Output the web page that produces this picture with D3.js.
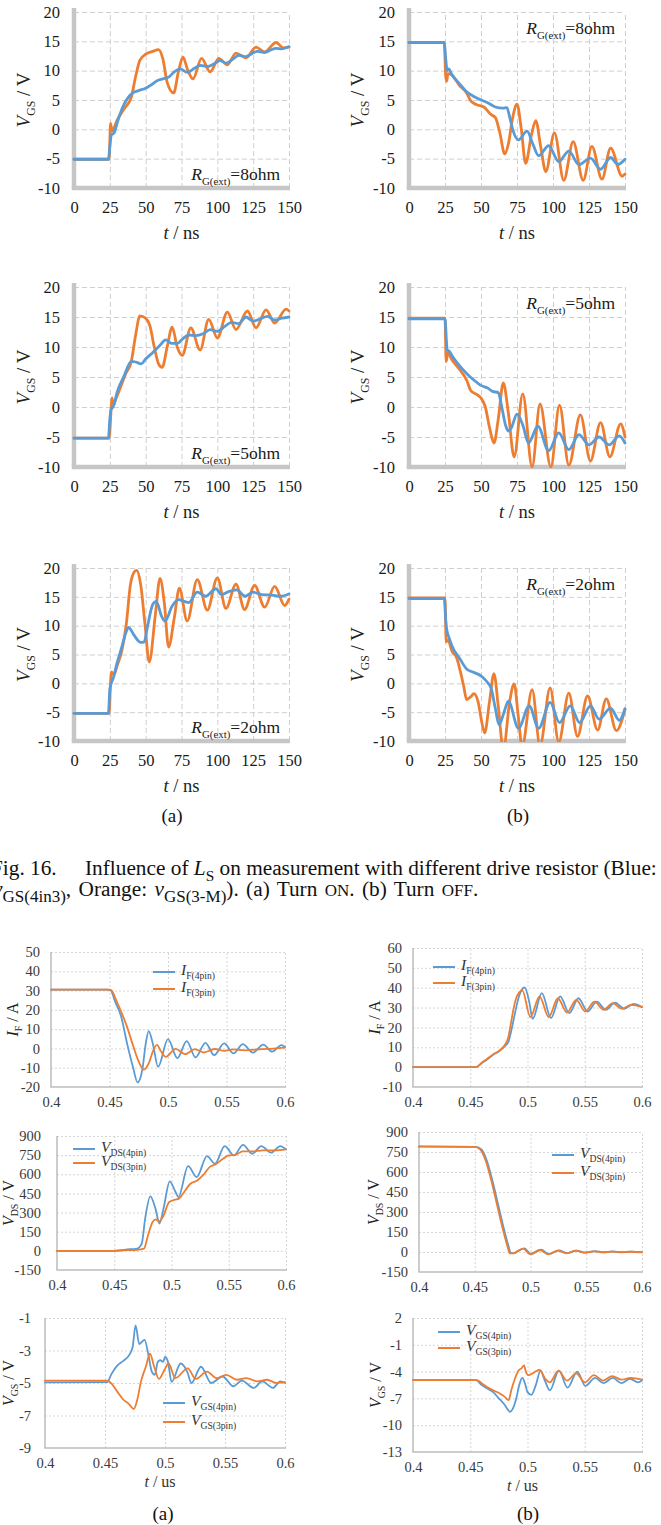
<!DOCTYPE html>
<html>
<head>
<meta charset="utf-8">
<script src="https://cdn.jsdelivr.net/npm/d3@7"></script>
<style>
  body { margin: 0; background: #fff; }
  svg { display: block; }
</style>
</head>
<body>
<svg id="chart" width="661" height="1525"></svg>
<script>
// ---------- tick values ----------
var nsTicks = [0, 25, 50, 75, 100, 125, 150];
var vgs16Ticks = [-10, -5, 0, 5, 10, 15, 20];
var usTicks = [0.4, 0.45, 0.5, 0.55, 0.6];
var ifOnTicks = [-20, -10, 0, 10, 20, 30, 40, 50];
var ifOffTicks = [-10, 0, 10, 20, 30, 40, 50, 60];
var vdsTicks = [-150, 0, 150, 300, 450, 600, 750, 900];
var vgsOnTicks = [-9, -7, -5, -3, -1];
var vgsOffTicks = [-13, -10, -7, -4, -1, 2];
var rgValues = ["8ohm", "5ohm", "2ohm"];

// ---------- Fig. 16 series : [t (ns), vGS (V)] ----------
var on8Blue = [[0,-5.1],[24,-5.1],[25,-3],[26,-1],[27,-0.8],[28,-0.6],[30,1],[34,3.8],[38,5.5],[41,6.2],[45,6.6],[50,7],[54,7.6],[58,8.3],[62,8.6],[66,8.9],[70,9.8],[74,10.3],[79,9.7],[84,10.4],[88,10.9],[93,10.7],[98,11.2],[102,11.7],[106,11.3],[111,12.0],[115,12.6],[120,12.4],[124,12.9],[128,13.3],[133,13.1],[137,13.5],[141,13.8],[145,13.7],[150,14.1]];
var on8Orange = [[0,-5.1],[24.5,-5.1],[25.5,1],[26.5,-0.3],[28,0.3],[30,1.5],[35,3.5],[40,5.5],[43,9],[46,11.8],[50,12.8],[55,13.3],[59,13.6],[62,12],[65,8],[69.5,6.2],[73,10],[76,12.3],[79.5,10],[83,8.6],[89,12.1],[95,9.8],[101,12.1],[107,11],[113,13],[120,12.2],[127,14],[133,13.2],[141,14.8],[146,13.9],[150,14]];
var off8Blue = [[0,14.8],[24.5,14.8],[25.5,12],[26.5,10],[27.5,10.3],[30,9.2],[35,7.8],[40,6.4],[45,5.6],[50,5],[55,4.5],[60,3.8],[65,3.6],[68,3.7],[70,2],[72,0],[76,-1.8],[82,-0.3],[86,-2.5],[90,-4.5],[97,-2.8],[104,-5.5],[111,-3.7],[118,-6],[126,-4.9],[133,-6.8],[140,-4.8],[145,-6],[150,-5.1]];
var off8Orange = [[0,14.8],[24.5,14.8],[25.5,9],[26.2,8.2],[27,9.5],[30,9.2],[35,7.5],[40,6.2],[43,4.8],[47,4.2],[52,3.8],[57,2.5],[60,2],[63,-0.5],[66.5,-4.2],[69,-2.5],[72,2],[75,4.3],[78,0],[81,-5.8],[85,-1],[88,1.5],[91.5,-3],[95,-7.2],[101,-0.6],[107.5,-8.7],[114,-2.1],[121,-8.7],[127,-2.9],[134,-8.5],[140,-3.2],[148,-8.0],[150,-7.6]];
var on5Blue = [[0,-5.2],[24,-5.2],[25,-2],[26,-0.3],[27,-0.1],[28,0.5],[30,2.4],[35,5.2],[40,7.6],[43,7.5],[47,7.2],[50,8],[55,9.1],[60,10.3],[64,11.2],[68,10.6],[72,10.6],[76,11.4],[80,12],[85,11.9],[90,12.2],[95,12.9],[100,12.6],[105,13.4],[110,14.1],[115,13.9],[120,15],[125,14.3],[130,14.7],[135,15.1],[140,14.5],[145,14.8],[150,15]];
var on5Orange = [[0,-5.2],[24.5,-5.2],[26,0],[26.5,1.5],[27.5,0.3],[29,1.2],[32,3],[36,5.5],[40,7.6],[43,12],[46,15.2],[50,14.8],[53,13.5],[56,10],[59,7.2],[61.5,6.6],[65,10],[68.5,13.3],[72,10],[75.5,8.6],[81.5,13.2],[88,9.5],[94,14.6],[100,11.5],[107,15.8],[113,12.9],[121,16],[127,13.2],[134,16.2],[140,14],[148,16.3],[150,16]];
var off5Blue = [[0,14.7],[25,14.7],[26,11],[26.5,9.5],[28,9.3],[30,8.5],[35,6.9],[40,5.6],[45,4.5],[50,3.6],[55,3.1],[58,2.6],[62,2.4],[64,0.5],[67,-3],[69,-4],[71,-3.5],[75,-1.2],[79,-3],[83,-6],[89.5,-3.2],[97,-7.3],[104,-4.3],[111,-7.1],[118,-4.6],[125,-6.3],[132,-5],[139,-6.3],[146,-4.8],[150,-6]];
var off5Orange = [[0,14.8],[25,14.8],[25.8,7.6],[27,9],[30,7.8],[35,6.3],[40,4.5],[43,2.7],[47,2.1],[50,1.5],[53,0],[56,-3.5],[59,-6],[62,-2],[65.5,4],[69,-1],[73,-8.3],[79,2.2],[85.5,-10],[91,0.5],[98.5,-10],[104.5,0.3],[111,-9.7],[119,-1.3],[126,-9],[133,-2.6],[139.5,-8.3],[147,-2.8],[150,-5]];
var on2Blue = [[0,-5.2],[24,-5.2],[25,-1],[26,0],[27.5,1],[30,3.5],[33,6],[36.4,8.9],[38,9.7],[42,8.3],[46.5,7.1],[49,7.2],[51,9.5],[55,13.7],[57.4,14.2],[61,11.7],[63.5,10.8],[68.5,13.4],[72.8,14.5],[77,14.2],[80,14],[86,15.8],[91.8,15.1],[99,16.4],[103,15.4],[107.8,15.9],[113.6,16.2],[119.4,15.1],[125,15.8],[131,15.4],[138,15.3],[144,15.1],[150,15.5]];
var on2Orange = [[0,-5.2],[24.5,-5.2],[25.5,0],[26,2],[28,1.5],[30,3],[33.5,5.8],[36.5,10.3],[39.3,17],[42,19.3],[43.7,19.6],[46.6,17],[49.5,10.3],[52.5,3.7],[56.8,12],[60,18.2],[63,14],[66,6.3],[70,11.4],[73.5,16.5],[79,10.8],[86,18],[93,12.7],[100,18.3],[106,13],[113,17.2],[119,12.8],[126,17],[133,13.2],[140,16.8],[147,13.5],[150,14.6]];
var off2Blue = [[0,14.7],[24.5,14.7],[25.5,11],[26.3,9.2],[28,7.8],[30,6.4],[35,4.4],[40,2.5],[45,1.9],[50,1.3],[53,0.6],[55,0],[57,-0.8],[60,-4.4],[62.5,-7.2],[66,-5],[69,-3.1],[76,-7.8],[83.5,-3.9],[90,-7.8],[98,-3.3],[104.5,-6.8],[112,-3.9],[118.5,-6.8],[126,-3.9],[132,-6.2],[140,-4.3],[146,-6.4],[150,-4.4]];
var off2Orange = [[0,14.8],[25,14.8],[25.8,7.2],[27,7.5],[30,5.5],[33,4.5],[36,1.7],[38,-0.5],[40,-2.8],[43,-2.3],[45,-1.8],[48,-3.2],[50,-6],[52.5,-8.6],[56,-3],[59,1.7],[62,-4],[65.5,-11.5],[70,-3],[73,-0.1],[76,-6],[78.5,-11],[85.5,-1.1],[91,-10.8],[98,-0.8],[104,-10.2],[111,-1.7],[117,-9.2],[124,-2.2],[131,-8.1],[137,-2.7],[144,-8.2],[150,-4.5]];

// ---------- Fig. 17 series : [t (us), value] ----------
var ifOnBlue = [[0.4,30.5],[0.448,30.5],[0.451,30],[0.455,24],[0.46,16.4],[0.465,2.6],[0.47,-9.5],[0.474,-17.6],[0.478,-11.2],[0.481,2.6],[0.4835,9],[0.487,2.6],[0.4915,-9.5],[0.5,4.8],[0.508,-5],[0.516,3.8],[0.5235,-4.6],[0.532,2.9],[0.5395,-3.5],[0.548,2.6],[0.556,-2.6],[0.564,2.2],[0.5725,-2.2],[0.5815,2],[0.589,-1.7],[0.597,1.7],[0.6,0.8]];
var ifOnOrange = [[0.4,30.5],[0.45,30.5],[0.452,30],[0.455,26],[0.46,19],[0.465,11.2],[0.47,1.7],[0.475,-6.9],[0.4795,-11],[0.4835,-7.8],[0.487,-1.7],[0.4905,1.8],[0.494,-1.5],[0.498,-4.4],[0.5065,-0.2],[0.5145,-3],[0.523,-0.4],[0.5305,-2.1],[0.54,-0.3],[0.548,-1.3],[0.556,-0.5],[0.565,-1],[0.58,-0.4],[0.59,-0.1],[0.6,0.4]];
var ifOffBlue = [[0.4,0],[0.455,0],[0.46,2],[0.465,4],[0.47,6.2],[0.475,7.9],[0.48,10.4],[0.4835,13],[0.486,18.8],[0.489,27],[0.4925,35.6],[0.4975,40.1],[0.5015,33],[0.5045,24.3],[0.5125,37.3],[0.5205,24.7],[0.5285,35.6],[0.5365,27.2],[0.5445,34.7],[0.5525,28],[0.5605,33],[0.5685,28.9],[0.5765,32.5],[0.5845,29.4],[0.5925,31.8],[0.6,30.2]];
var ifOffOrange = [[0.4,0],[0.455,0],[0.46,2.2],[0.465,4.3],[0.47,6.4],[0.475,8.2],[0.48,11],[0.483,14.5],[0.4855,22],[0.488,30],[0.491,36],[0.4955,38.6],[0.5025,25.2],[0.5105,35.6],[0.5185,25.2],[0.5265,34.7],[0.5345,27.5],[0.5425,33.9],[0.5505,28],[0.5585,33],[0.5665,28.9],[0.5745,32.2],[0.5825,29.4],[0.5905,31.4],[0.6,30.3]];
var vdsOnBlue = [[0.4,0],[0.45,0],[0.46,10],[0.47,18],[0.474,57],[0.477,253],[0.4815,427],[0.486,331],[0.4895,214],[0.493,331],[0.4985,545],[0.5035,461],[0.506,422],[0.5145,664],[0.522,578],[0.531,742],[0.538,683],[0.5465,821],[0.5545,748],[0.5625,831],[0.5705,761],[0.5785,821],[0.587,769],[0.595,821],[0.6,795]];
var vdsOnOrange = [[0.4,0],[0.45,0],[0.46,5],[0.47,8],[0.476,18],[0.4795,122],[0.4835,227],[0.4865,247],[0.489,230],[0.4925,266],[0.498,383],[0.503,401],[0.5065,409],[0.51,448],[0.5165,526],[0.5225,552],[0.528,597],[0.534,662],[0.538,675],[0.545,722],[0.55,748],[0.556,753],[0.562,779],[0.57,779],[0.58,787],[0.59,787],[0.6,795]];
var vdsOffBlue = [[0.4,792],[0.451,788],[0.456,769],[0.461,681],[0.466,530],[0.471,354],[0.476,178],[0.48,53],[0.4825,-8],[0.4855,-8],[0.4895,10],[0.4945,27],[0.5005,-15],[0.5095,17],[0.5165,-15],[0.5255,12],[0.533,-8],[0.5415,11],[0.549,-4],[0.558,6],[0.566,-2],[0.574,4],[0.581,-1],[0.591,3],[0.6,-1]];
var vdsOffOrange = [[0.4,790],[0.45,788],[0.455,769],[0.46,681],[0.465,530],[0.47,354],[0.475,178],[0.479,53],[0.4815,-10],[0.4845,-10],[0.4885,8],[0.4935,25],[0.4995,-17],[0.5085,15],[0.5155,-17],[0.5245,10],[0.532,-10],[0.5405,10],[0.548,-5],[0.557,5],[0.565,-3],[0.573,3],[0.58,-2],[0.59,2],[0.6,-2]];
var vgsOnBlue = [[0.4,-4.96],[0.452,-4.95],[0.455,-4.5],[0.46,-3.95],[0.465,-3.65],[0.47,-3.3],[0.473,-2.8],[0.4755,-1.45],[0.4785,-2.6],[0.481,-2.45],[0.483,-2.35],[0.486,-3.2],[0.489,-4.3],[0.4915,-4.5],[0.494,-3.7],[0.496,-3.6],[0.4985,-3.7],[0.5,-3.4],[0.5025,-3.7],[0.5055,-4.95],[0.513,-3.8],[0.5185,-4.3],[0.522,-5],[0.53,-4.0],[0.5385,-5.0],[0.548,-4.6],[0.557,-5.2],[0.564,-4.85],[0.574,-5.3],[0.581,-4.9],[0.59,-5.3],[0.596,-4.9],[0.6,-5.0]];
var vgsOnOrange = [[0.4,-4.85],[0.452,-4.85],[0.455,-5.0],[0.46,-5.5],[0.465,-6.0],[0.47,-6.3],[0.474,-6.6],[0.477,-6.0],[0.48,-4.9],[0.484,-4.0],[0.4875,-3.2],[0.491,-4.0],[0.495,-4.75],[0.4995,-4.2],[0.503,-3.8],[0.5085,-4.7],[0.519,-4.1],[0.5255,-4.75],[0.535,-4.3],[0.543,-4.7],[0.551,-4.5],[0.56,-4.8],[0.568,-4.7],[0.577,-4.9],[0.585,-4.8],[0.593,-5.0],[0.6,-4.95]];
var vgsOffBlue = [[0.4,-4.95],[0.455,-4.95],[0.46,-5.5],[0.465,-5.9],[0.47,-6.3],[0.475,-7.0],[0.48,-7.7],[0.4825,-8.2],[0.4845,-8.5],[0.487,-8.2],[0.49,-7.1],[0.493,-5.4],[0.4955,-4.7],[0.498,-5.4],[0.5,-6.3],[0.5035,-6.6],[0.507,-5.6],[0.5115,-3.9],[0.515,-4.95],[0.5195,-6.1],[0.5275,-3.9],[0.535,-5.8],[0.5435,-4.0],[0.5505,-5.6],[0.559,-4.7],[0.5665,-5.3],[0.5745,-4.7],[0.582,-5.3],[0.5895,-4.8],[0.5965,-5.2],[0.6,-5.0]];
var vgsOffOrange = [[0.4,-4.95],[0.456,-4.95],[0.46,-5.3],[0.465,-5.75],[0.47,-6.1],[0.475,-6.4],[0.48,-6.8],[0.4835,-7.2],[0.486,-6.0],[0.489,-4.8],[0.492,-3.9],[0.495,-3.6],[0.497,-3.3],[0.4985,-4.0],[0.501,-4.4],[0.5045,-4.2],[0.5105,-3.8],[0.5155,-4.8],[0.5195,-5.2],[0.527,-3.9],[0.5345,-5.0],[0.5425,-4.2],[0.55,-5.2],[0.558,-4.4],[0.566,-5.0],[0.574,-4.5],[0.582,-4.9],[0.59,-4.7],[0.6,-4.9]];

var SERIF = "'Liberation Serif', 'Times New Roman', serif";
var BLUE = "#5b9bd5", ORANGE = "#ed7d31";
var svg = d3.select("#chart").attr("font-family", SERIF);
var clipCount = 0;

// rich text: parts = [[text, flags]] flags: i italic, s subscript, c small caps
function rich(sel, parts, size, subScale) {
  var k = subScale || 0.62;
  var down = false;
  parts.forEach(function (p) {
    var f = p[1] || "";
    var ts = sel.append("tspan").text(p[0]);
    if (f.indexOf("i") >= 0) ts.attr("font-style", "italic");
    if (f.indexOf("s") >= 0) {
      ts.attr("font-size", size * k);
      if (!down) { ts.attr("dy", size * 0.28); down = true; }
    } else {
      ts.attr("font-size", f.indexOf("c") >= 0 ? size * 0.8 : size);
      if (down) { ts.attr("dy", -size * 0.28); down = false; }
    }
  });
  return sel;
}

function clipRect(x0, x1, yb, yt) {
  var id = "clip" + (clipCount++);
  svg.append("clipPath").attr("id", id).append("rect")
    .attr("x", x0).attr("y", yt).attr("width", x1 - x0).attr("height", yb - yt);
  return "url(#" + id + ")";
}

function drawPanel(o) {
  var x = d3.scaleLinear().domain(o.xDom).range(o.xr);
  var y = d3.scaleLinear().domain(o.yDom).range(o.yr);
  var x0 = o.xr[0], x1 = o.xr[1], yb = o.yr[0], yt = o.yr[1];
  var g = svg.append("g");

  // grid
  g.append("g").attr("transform", "translate(0," + yb + ")")
    .call(d3.axisBottom(x).tickValues(o.xTicks.slice(1)).tickSize(-(yb - yt)).tickFormat(""))
    .call(function (a) { a.select(".domain").remove(); })
    .selectAll("line").attr("stroke", o.gridColor).attr("stroke-width", 1).attr("stroke-dasharray", o.dash);
  g.append("g").attr("transform", "translate(" + x0 + ",0)")
    .call(d3.axisLeft(y).tickValues(o.yTicks.slice(1)).tickSize(-(x1 - x0)).tickFormat(""))
    .call(function (a) { a.select(".domain").remove(); })
    .selectAll("line").attr("stroke", o.gridColor).attr("stroke-width", 1).attr("stroke-dasharray", o.dash);

  // axis lines
  g.append("line").attr("x1", x0).attr("x2", x0).attr("y1", yt - o.axisExt).attr("y2", yb)
    .attr("stroke", o.axisColor).attr("stroke-width", o.axisW);
  g.append("line").attr("x1", x0 - o.axisW / 2).attr("x2", x1 + 1).attr("y1", yb).attr("y2", yb)
    .attr("stroke", o.axisColor).attr("stroke-width", o.axisW);

  // tick labels
  g.append("g").attr("transform", "translate(0," + yb + ")")
    .call(d3.axisBottom(x).tickValues(o.xTicks).tickSize(0).tickPadding(o.xPad).tickFormat(String))
    .call(function (a) { a.select(".domain").remove(); })
    .attr("font-family", SERIF).attr("font-size", o.tickFont)
    .selectAll("text").attr("fill", o.tickColor);
  g.append("g").attr("transform", "translate(" + x0 + ",0)")
    .call(d3.axisLeft(y).tickValues(o.yTicks).tickSize(0).tickPadding(o.yPad).tickFormat(String))
    .call(function (a) { a.select(".domain").remove(); })
    .attr("font-family", SERIF).attr("font-size", o.tickFont)
    .selectAll("text").attr("fill", o.tickColor);

  // series
  var line = d3.line().x(function (d) { return x(d[0]); }).y(function (d) { return y(d[1]); })
    .curve(d3.curveMonotoneX);
  var lg = g.append("g").attr("clip-path", clipRect(x0 - 2, x1 + 2, yb + 1, yt - 2));
  o.series.forEach(function (s) {
    lg.append("path").datum(s.data).attr("d", line)
      .attr("fill", "none").attr("stroke", s.color).attr("stroke-width", o.lineW)
      .attr("stroke-linejoin", "round").attr("stroke-linecap", "round");
  });

  // y title
  rich(g.append("text")
    .attr("transform", "translate(" + o.ylabX + "," + (o.ylabY || (yb + yt) / 2) + ") rotate(-90)")
    .attr("text-anchor", "middle").attr("dy", "0.35em").attr("fill", "#222"), o.ylab, o.labFont);
  return { g: g, x: x, y: y };
}

// ---------- Fig. 16 ----------
var rows16 = [[188, 12], [467, 287], [741, 568]];
var cols16 = [[74, 289], [409, 625]];
var fig16 = [
  [on8Blue, on8Orange, off8Blue, off8Orange],
  [on5Blue, on5Orange, off5Blue, off5Orange],
  [on2Blue, on2Orange, off2Blue, off2Orange]
];

fig16.forEach(function (row, r) {
  [0, 1].forEach(function (c) {
    var p = drawPanel({
      xDom: [0, 150], yDom: [-10, 20], xr: cols16[c], yr: rows16[r],
      xTicks: nsTicks, yTicks: vgs16Ticks,
      gridColor: "#cfcfcf", dash: "5,3", axisColor: "#c6c6c6", axisW: 4.5, axisExt: 4,
      tickFont: 16.5, tickColor: "#1a1a1a", xPad: 13, yPad: 14, lineW: 2.8,
      series: [{ data: row[2 * c + 1], color: ORANGE }, { data: row[2 * c], color: BLUE }],
      ylab: [["V", "i"], ["GS", "s"], [" / V"]], ylabX: c === 0 ? 24 : 358, labFont: 19
    });
    var xm = (cols16[c][0] + cols16[c][1]) / 2;
    rich(p.g.append("text").attr("x", xm).attr("y", rows16[r][0] + 51)
      .attr("text-anchor", "middle").attr("fill", "#222"), [["t", "i"], [" / ns"]], 18.5);
    var rg = p.g.append("text").attr("text-anchor", "end").attr("fill", "#1a1a1a");
    if (c === 0) rg.attr("x", 280).attr("y", rows16[r][0] - 8);
    else rg.attr("x", 615).attr("y", rows16[r][1] + 22);
    rich(rg, [["R", "i"], ["G(ext)", "s"], ["=" + rgValues[r]]], 17.5);
  });
});

svg.append("text").attr("x", 172).attr("y", 822).attr("text-anchor", "middle")
  .attr("font-size", 19).attr("fill", "#111").text("(a)");
svg.append("text").attr("x", 518).attr("y", 822).attr("text-anchor", "middle")
  .attr("font-size", 19).attr("fill", "#111").text("(b)");

// caption
var capSize = 21.3;
svg.append("text").attr("x", -9).attr("y", 875).attr("font-size", capSize).attr("fill", "#111").text("Fig. 16.");
rich(svg.append("text").attr("x", 85).attr("y", 875).attr("fill", "#111"),
  [["Influence of "], ["L", "i"], ["S", "s"], [" on measurement with different drive resistor (Blue:"]], capSize, 0.72);
rich(svg.append("text").attr("x", -7).attr("y", 896).attr("fill", "#111").attr("word-spacing", 2),
  [["v", "i"], ["GS(4in3)", "s"], [", Orange: "], ["v", "i"], ["GS(3-M)", "s"], ["). (a) Turn "], ["ON", "c"],
   [". (b) Turn "], ["OFF", "c"], ["."]], capSize, 0.8);

// ---------- Fig. 17 ----------
var fig17 = [
  { xr: [51, 285], yr: [1087, 952], yDom: [-20, 50], yTicks: ifOnTicks, blue: ifOnBlue, orange: ifOnOrange,
    sym: "I", sub: "F", unit: "A", ylabX: 12, yPad: 11, leg: [153, 972, 989] },
  { xr: [413, 642], yr: [1087, 948], yDom: [-10, 60], yTicks: ifOffTicks, blue: ifOffBlue, orange: ifOffOrange,
    sym: "I", sub: "F", unit: "A", ylabX: 374, yPad: 11, leg: [433, 967, 983] },
  { xr: [57, 286], yr: [1270, 1136], yDom: [-150, 900], yTicks: vdsTicks, blue: vdsOnBlue, orange: vdsOnOrange,
    sym: "V", sub: "DS", unit: "V", ylabX: 8, yPad: 16, leg: [73, 1149, 1163] },
  { xr: [419, 642], yr: [1272, 1132], yDom: [-150, 900], yTicks: vdsTicks, blue: vdsOffBlue, orange: vdsOffOrange,
    sym: "V", sub: "DS", unit: "V", ylabX: 373, yPad: 11, leg: [552, 1155, 1173] },
  { xr: [45, 285], yr: [1448, 1318], yDom: [-9, -1], yTicks: vgsOnTicks, blue: vgsOnBlue, orange: vgsOnOrange,
    sym: "V", sub: "GS", unit: "V", ylabX: 8, yPad: 14, leg: [163, 1403, 1422] },
  { xr: [413, 642], yr: [1452, 1318], yDom: [-13, 2], yTicks: vgsOffTicks, blue: vgsOffBlue, orange: vgsOffOrange,
    sym: "V", sub: "GS", unit: "V", ylabX: 375, yPad: 11, leg: [438, 1332, 1348] }
];

fig17.forEach(function (d, i) {
  var p = drawPanel({
    xDom: [0.4, 0.6], yDom: d.yDom, xr: d.xr, yr: d.yr,
    xTicks: usTicks, yTicks: d.yTicks,
    gridColor: "#d6d6d6", dash: "2,2", axisColor: "#bdbdbd", axisW: 1.5, axisExt: 0,
    tickFont: 14.5, tickColor: "#3a3a3a", xPad: 10, yPad: d.yPad, lineW: 1.8,
    series: [{ data: d.blue, color: BLUE }, { data: d.orange, color: ORANGE }],
    ylab: [[d.sym, "i"], [d.sub, "s"], [" / " + d.unit]], ylabX: d.ylabX, labFont: 16
  });
  // legend
  [["4pin", BLUE, d.leg[1]], ["3pin", ORANGE, d.leg[2]]].forEach(function (l) {
    p.g.append("line").attr("x1", d.leg[0]).attr("x2", d.leg[0] + 22).attr("y1", l[2]).attr("y2", l[2])
      .attr("stroke", l[1]).attr("stroke-width", 2);
    rich(p.g.append("text").attr("x", d.leg[0] + 28).attr("y", l[2] + 3).attr("fill", "#333"),
      [[d.sym, "i"], [d.sub + "(" + l[0] + ")", "s"]], 15.5);
  });
  if (i >= 4) {
    var xm = (d.xr[0] + d.xr[1]) / 2 - 5;
    rich(p.g.append("text").attr("x", xm).attr("y", d.yr[0] + 39).attr("text-anchor", "middle")
      .attr("fill", "#333"), [["t", "i"], [" / us"]], 16);
  }
});

svg.append("text").attr("x", 163).attr("y", 1520).attr("text-anchor", "middle")
  .attr("font-size", 19).attr("fill", "#111").text("(a)");
svg.append("text").attr("x", 528).attr("y", 1520).attr("text-anchor", "middle")
  .attr("font-size", 19).attr("fill", "#111").text("(b)");
</script>
</body>
</html>
